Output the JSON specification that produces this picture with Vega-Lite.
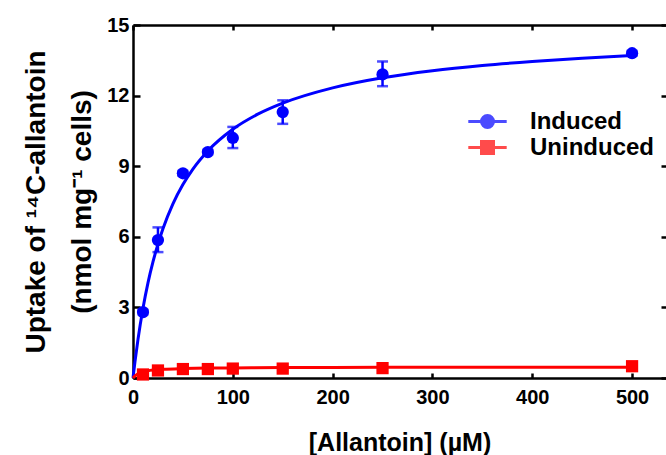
{
  "$schema": "https://vega.github.io/schema/vega-lite/v6.json",
  "autosize": {"type": "none"},
  "padding": {"left": 133, "top": 25, "right": 0, "bottom": 77},
  "width": 533,
  "height": 353,
  "background": "white",
  "config": {
    "view": {"stroke": null},
    "axis": {
      "grid": false,
      "domainColor": "black",
      "domainWidth": 2.5,
      "tickColor": "black",
      "tickWidth": 2.5,
      "labelFont": "Liberation Sans",
      "labelFontWeight": "bold",
      "labelFontSize": 20,
      "labelColor": "black",
      "titleFont": "Liberation Sans",
      "titleFontWeight": "bold",
      "titleFontSize": 26,
      "titleColor": "black",
      "labelFlush": false
    }
  },
  "datasets": {
    "curves": [
      {"series": "Induced", "x": 0, "y": 0},
      {"series": "Induced", "x": 2, "y": 0.70},
      {"series": "Induced", "x": 5, "y": 1.64},
      {"series": "Induced", "x": 10, "y": 2.96},
      {"series": "Induced", "x": 15, "y": 4.04},
      {"series": "Induced", "x": 20, "y": 4.93},
      {"series": "Induced", "x": 25, "y": 5.69},
      {"series": "Induced", "x": 30, "y": 6.34},
      {"series": "Induced", "x": 40, "y": 7.40},
      {"series": "Induced", "x": 50, "y": 8.22},
      {"series": "Induced", "x": 60, "y": 8.88},
      {"series": "Induced", "x": 75, "y": 9.65},
      {"series": "Induced", "x": 100, "y": 10.57},
      {"series": "Induced", "x": 125, "y": 11.21},
      {"series": "Induced", "x": 150, "y": 11.68},
      {"series": "Induced", "x": 200, "y": 12.33},
      {"series": "Induced", "x": 250, "y": 12.76},
      {"series": "Induced", "x": 300, "y": 13.06},
      {"series": "Induced", "x": 350, "y": 13.28},
      {"series": "Induced", "x": 400, "y": 13.45},
      {"series": "Induced", "x": 450, "y": 13.59},
      {"series": "Induced", "x": 500, "y": 13.70},
      {"series": "Uninduced", "x": 0, "y": 0},
      {"series": "Uninduced", "x": 2, "y": 0.09},
      {"series": "Uninduced", "x": 5, "y": 0.18},
      {"series": "Uninduced", "x": 10, "y": 0.26},
      {"series": "Uninduced", "x": 15, "y": 0.31},
      {"series": "Uninduced", "x": 20, "y": 0.34},
      {"series": "Uninduced", "x": 30, "y": 0.37},
      {"series": "Uninduced", "x": 50, "y": 0.40},
      {"series": "Uninduced", "x": 75, "y": 0.42},
      {"series": "Uninduced", "x": 100, "y": 0.43},
      {"series": "Uninduced", "x": 150, "y": 0.45},
      {"series": "Uninduced", "x": 200, "y": 0.45},
      {"series": "Uninduced", "x": 300, "y": 0.46},
      {"series": "Uninduced", "x": 400, "y": 0.46},
      {"series": "Uninduced", "x": 500, "y": 0.46}
    ],
    "points": [
      {"series": "Induced", "x": 10, "y": 2.8, "lo": 2.7, "hi": 2.9},
      {"series": "Induced", "x": 25, "y": 5.86, "lo": 5.35, "hi": 6.4},
      {"series": "Induced", "x": 50, "y": 8.7, "lo": 8.6, "hi": 8.8},
      {"series": "Induced", "x": 75, "y": 9.6, "lo": 9.5, "hi": 9.7},
      {"series": "Induced", "x": 100, "y": 10.2, "lo": 9.77, "hi": 10.67},
      {"series": "Induced", "x": 150, "y": 11.3, "lo": 10.8, "hi": 11.8},
      {"series": "Induced", "x": 250, "y": 12.9, "lo": 12.4, "hi": 13.45},
      {"series": "Induced", "x": 500, "y": 13.8, "lo": 13.7, "hi": 13.9},
      {"series": "Uninduced", "x": 10, "y": 0.15, "lo": 0.1, "hi": 0.2},
      {"series": "Uninduced", "x": 25, "y": 0.32, "lo": 0.27, "hi": 0.37},
      {"series": "Uninduced", "x": 50, "y": 0.38, "lo": 0.33, "hi": 0.43},
      {"series": "Uninduced", "x": 75, "y": 0.38, "lo": 0.33, "hi": 0.43},
      {"series": "Uninduced", "x": 100, "y": 0.4, "lo": 0.35, "hi": 0.45},
      {"series": "Uninduced", "x": 150, "y": 0.4, "lo": 0.35, "hi": 0.45},
      {"series": "Uninduced", "x": 250, "y": 0.42, "lo": 0.37, "hi": 0.47},
      {"series": "Uninduced", "x": 500, "y": 0.5, "lo": 0.45, "hi": 0.55}
    ]
  },
  "resolve": {"axis": {"x": "independent", "y": "independent"}},
  "layer": [
    {
      "data": {"name": "curves"},
      "mark": {"type": "line", "strokeWidth": 3, "interpolate": "monotone"},
      "encoding": {
        "x": {"field": "x", "type": "quantitative", "scale": {"domain": [0, 534], "nice": false},
          "axis": {"orient": "bottom", "values": [0, 100, 200, 300, 400, 500], "tickSize": -5, "labelPadding": 14, "title": "[Allantoin] (µM)", "titleFontSize": 25, "titlePadding": 23}},
        "y": {"field": "y", "type": "quantitative", "scale": {"domain": [0, 15], "nice": false},
          "axis": {"orient": "left", "values": [0, 3, 6, 9, 12, 15], "tickSize": -7, "labelPadding": 11, "title": ["Uptake of ¹⁴C-allantoin", "(nmol mg⁻¹ cells)"], "titleFontSize": 28, "titleLineHeight": 46, "titlePadding": 10}},
        "color": {"field": "series", "type": "nominal", "scale": {"domain": ["Induced", "Uninduced"], "range": ["#0000ff", "#ff0000"]}},
        "detail": {"field": "series"}
      }
    },
    {
      "data": {"name": "points"},
      "mark": {"type": "rule", "strokeWidth": 2.5},
      "encoding": {
        "x": {"field": "x", "type": "quantitative",
          "axis": {"orient": "top", "values": [0, 100, 200, 300, 400, 500], "tickSize": -5, "labels": false, "title": null}},
        "y": {"field": "lo", "type": "quantitative",
          "axis": {"orient": "right", "values": [0, 3, 6, 9, 12, 15], "tickSize": -5, "labels": false, "domain": false, "title": null}},
        "y2": {"field": "hi"},
        "color": {"field": "series", "type": "nominal"}
      }
    },
    {
      "data": {"name": "points"},
      "mark": {"type": "tick", "orient": "horizontal", "size": 11, "thickness": 2.5},
      "encoding": {
        "x": {"field": "x", "type": "quantitative", "axis": null},
        "y": {"field": "lo", "type": "quantitative", "axis": null},
        "color": {"field": "series", "type": "nominal"}
      }
    },
    {
      "data": {"name": "points"},
      "mark": {"type": "tick", "orient": "horizontal", "size": 11, "thickness": 2.5},
      "encoding": {
        "x": {"field": "x", "type": "quantitative", "axis": null},
        "y": {"field": "hi", "type": "quantitative", "axis": null},
        "color": {"field": "series", "type": "nominal"}
      }
    },
    {
      "data": {"name": "points"},
      "transform": [{"filter": "datum.series === 'Induced'"}],
      "mark": {"type": "point", "shape": "circle", "filled": true, "opacity": 1, "size": 150},
      "encoding": {
        "x": {"field": "x", "type": "quantitative", "axis": null},
        "y": {"field": "y", "type": "quantitative", "axis": null},
        "color": {"field": "series", "type": "nominal"}
      }
    },
    {
      "data": {"name": "points"},
      "transform": [{"filter": "datum.series === 'Uninduced'"}],
      "mark": {"type": "point", "shape": "square", "filled": true, "opacity": 1, "size": 150},
      "encoding": {
        "x": {"field": "x", "type": "quantitative", "axis": null},
        "y": {"field": "y", "type": "quantitative", "axis": null},
        "color": {"field": "series", "type": "nominal"}
      }
    },
    {
      "data": {"name": "points"},
      "transform": [{"filter": "datum.x < 0"}],
      "mark": {"type": "point", "filled": true, "opacity": 1, "strokeWidth": 3},
      "encoding": {
        "x": {"field": "x", "type": "quantitative", "axis": null},
        "y": {"field": "y", "type": "quantitative", "axis": null},
        "color": {"field": "series", "type": "nominal",
          "legend": {
            "title": null,
            "orient": "none",
            "legendX": 341,
            "legendY": 83,
            "padding": 0,
            "symbolSize": 576,
            "symbolStrokeWidth": 3,
            "labelOffset": 29,
            "rowPadding": -8,
            "labelFont": "Liberation Sans",
            "labelFontWeight": "bold",
            "labelFontSize": 24,
            "labelColor": "black"
          }},
        "stroke": {"field": "series", "type": "nominal",
          "scale": {"domain": ["Induced", "Uninduced"], "range": ["#0000ff", "#ff0000"]}},
        "shape": {"field": "series", "type": "nominal",
          "scale": {"domain": ["Induced", "Uninduced"], "range": ["M-1.6,0H1.6M-0.5,0A0.5,0.5,0,1,1,0.5,0A0.5,0.5,0,1,1,-0.5,0Z", "M-1.6,0H1.6M-0.5,-0.5H0.5V0.5H-0.5Z"]}}
      }
    }
  ]
}
